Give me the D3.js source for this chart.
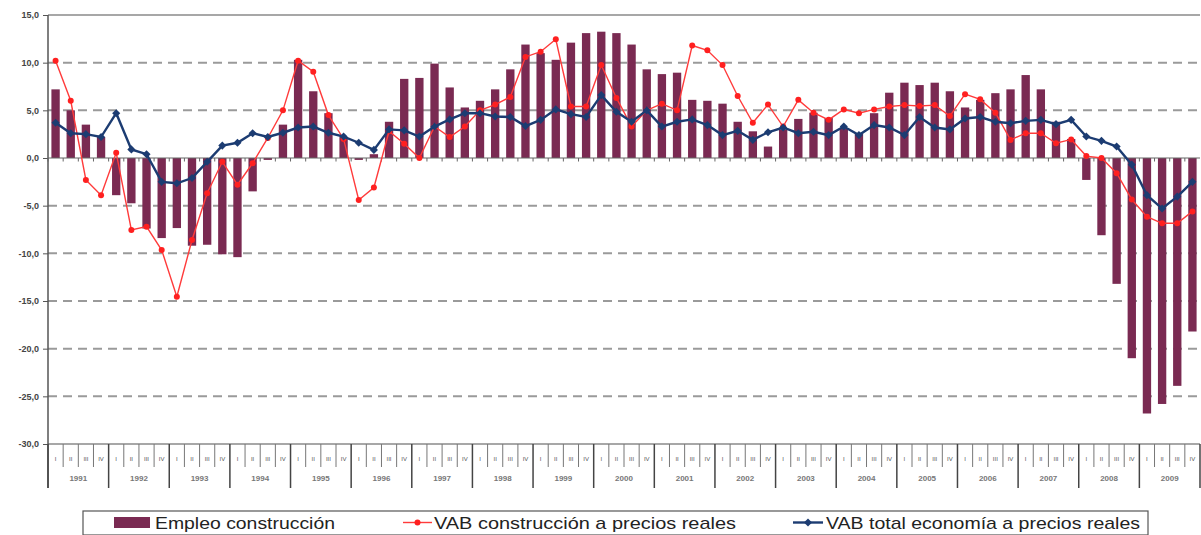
<!DOCTYPE html>
<html>
<head>
<meta charset="utf-8">
<script src="https://cdn.jsdelivr.net/npm/d3@7"></script>
<style>
  html, body { margin: 0; padding: 0; background: #ffffff; }
  svg { display: block; font-family: "Liberation Sans", Arial, sans-serif; }
</style>
</head>
<body>
<svg id="chart" width="1201" height="535"></svg>
<script>
// Quarterly year-on-year rates (%), 1991 Q1 – 2009 Q4
const years = ["1991","1992","1993","1994","1995","1996","1997","1998","1999","2000",
               "2001","2002","2003","2004","2005","2006","2007","2008","2009"];
const quarterLabels = ["I", "II", "III", "IV"];

const empleoConstruccion = [
  7.2, 5.0, 3.5, 2.2,     -3.9, -4.75, -7.4, -8.4,   -7.35, -9.2, -9.1, -10.1,
  -10.4, -3.5, -0.2, 3.5, 10.3, 7.0, 4.7, 2.2,       -0.2, 0.4, 3.8, 8.3,
  8.4, 9.9, 7.4, 5.3,     6.0, 7.2, 9.3, 11.9,       11.0, 10.3, 12.1, 13.1,
  13.25, 13.1, 11.9, 9.3, 8.8, 8.95, 6.1, 6.0,       5.7, 3.8, 2.8, 1.2,
  3.0, 4.1, 4.75, 4.2,    3.1, 2.6, 4.7, 6.85,       7.9, 7.65, 7.9, 7.0,
  5.3, 6.1, 6.8, 7.2,     8.7, 7.2, 3.8, 2.0,        -2.3, -8.1, -13.2, -21.0,
  -26.8, -25.8, -23.9, -18.2
];

const vabConstruccion = [
  10.2, 6.0, -2.3, -3.9,  0.55, -7.55, -7.2, -9.65,  -14.55, -8.6, -3.7, -0.4,
  -2.8, -0.55, 2.1, 5.0,  10.2, 9.05, 4.5, 2.0,      -4.4, -3.1, 2.8, 1.5,
  0.0, 3.3, 2.2, 3.3,     5.0, 5.6, 6.4, 10.6,       11.15, 12.45, 5.4, 5.4,
  9.75, 6.3, 3.3, 5.0,    5.7, 5.0, 11.8, 11.3,      9.75, 6.5, 3.7, 5.6,
  3.3, 6.1, 4.75, 4.0,    5.1, 4.7, 5.1, 5.4,        5.55, 5.45, 5.55, 4.4,
  6.7, 6.15, 4.75, 1.9,   2.6, 2.6, 1.55, 1.95,      0.2, 0.0, -1.6, -4.35,
  -6.15, -6.85, -6.85, -5.6
];

const vabTotal = [
  3.7, 2.6, 2.5, 2.2,     4.7, 0.9, 0.4, -2.5,       -2.65, -2.1, -0.4, 1.3,
  1.6, 2.6, 2.2, 2.65,    3.2, 3.3, 2.65, 2.25,      1.6, 0.85, 3.0, 2.9,
  2.25, 3.3, 4.05, 4.7,   4.7, 4.35, 4.3, 3.35,      4.0, 5.1, 4.6, 4.3,
  6.6, 4.85, 3.8, 5.0,    3.3, 3.8, 4.05, 3.45,      2.4, 2.85, 1.9, 2.7,
  3.2, 2.6, 2.75, 2.4,    3.3, 2.4, 3.45, 3.2,       2.4, 4.3, 3.2, 3.0,
  4.15, 4.3, 3.8, 3.65,   3.9, 4.0, 3.55, 4.0,       2.25, 1.8, 1.2, -0.7,
  -3.9, -5.3, -4.05, -2.5
];

const yTicks = [15, 10, 5, 0, -5, -10, -15, -20, -25, -30];

const seriesNames = ["Empleo construcción",
                     "VAB construcción a precios reales",
                     "VAB total economía a precios reales"];

// ---------------------------------------------------------------------------
const colors = { bar: "#7a2a52", red: "#ff3b3b", redDot: "#ff2020", blue: "#1c3c72" };

const periods = [];
years.forEach(y => quarterLabels.forEach(q => periods.push(y + "-" + q)));

const svg = d3.select("#chart");
const plot = { left: 48, right: 1200, top: 15, bottom: 444 };

const x = d3.scaleBand().domain(periods).range([plot.left, plot.right]).paddingInner(0.45).paddingOuter(0.225);
const xq = d3.scaleBand().domain(periods).range([plot.left, plot.right]);
const xYear = d3.scaleBand().domain(years).range([plot.left, plot.right]);
const y = d3.scaleLinear().domain([-30, 15]).range([plot.bottom, plot.top]);

const fmt = v => d3.format(".1f")(v).replace(".", ",").replace("\u2212", "-");

// dashed gridlines
svg.append("g")
  .selectAll("line")
  .data(yTicks.filter(t => t !== 0 && t !== 15 && t !== -30))
  .join("line")
  .attr("x1", plot.left).attr("x2", plot.right)
  .attr("y1", d => y(d)).attr("y2", d => y(d))
  .attr("stroke", "#9a9a9a").attr("stroke-width", 2)
  .attr("stroke-dasharray", "9,6");

// plot frame top and bottom
svg.append("line").attr("x1", plot.left).attr("x2", plot.right)
  .attr("y1", y(15)).attr("y2", y(15)).attr("stroke", "#8a8a8a").attr("stroke-width", 1.5);
svg.append("line").attr("x1", plot.left).attr("x2", plot.right)
  .attr("y1", y(-30)).attr("y2", y(-30)).attr("stroke", "#8a8a8a").attr("stroke-width", 1.5);

// y axis
const yAxis = d3.axisLeft(y).tickValues(yTicks).tickFormat(fmt).tickSize(5).tickPadding(4);
const gy = svg.append("g").attr("transform", `translate(${plot.left},0)`).call(yAxis);
gy.select(".domain").remove();
gy.selectAll(".tick line").attr("stroke", "#555");
gy.selectAll(".tick text").attr("fill", "#444").style("font-size", "9px").style("font-weight", "bold");
svg.append("line").attr("x1", plot.left).attr("x2", plot.left)
  .attr("y1", plot.top).attr("y2", 488).attr("stroke", "#555").attr("stroke-width", 1.5);

// bars
svg.append("g")
  .selectAll("rect")
  .data(empleoConstruccion)
  .join("rect")
  .attr("x", (d, i) => x(periods[i]))
  .attr("width", x.bandwidth())
  .attr("y", d => y(Math.max(0, d)))
  .attr("height", d => Math.abs(y(d) - y(0)))
  .attr("fill", colors.bar);

// zero axis with quarter tick marks
svg.append("line").attr("x1", plot.left).attr("x2", plot.right)
  .attr("y1", y(0)).attr("y2", y(0)).attr("stroke", "#666").attr("stroke-width", 1.2);
svg.append("g")
  .selectAll("line")
  .data(periods)
  .join("line")
  .attr("x1", d => xq(d)).attr("x2", d => xq(d))
  .attr("y1", y(0)).attr("y2", y(0) + 3.5)
  .attr("stroke", "#666").attr("stroke-width", 1);

// bottom category axis: quarters then years
const cx = i => xq(periods[i]) + xq.bandwidth() / 2;
const catAxis = svg.append("g");
catAxis.selectAll("line.q")
  .data(periods)
  .join("line")
  .attr("class", "q")
  .attr("x1", d => xq(d)).attr("x2", d => xq(d))
  .attr("y1", plot.bottom).attr("y2", d => d.endsWith("-I") ? 488 : 467)
  .attr("stroke", d => d.endsWith("-I") ? "#444" : "#777")
  .attr("stroke-width", d => d.endsWith("-I") ? 1.5 : 1);
catAxis.append("line")
  .attr("x1", plot.right).attr("x2", plot.right)
  .attr("y1", plot.bottom).attr("y2", 488).attr("stroke", "#444").attr("stroke-width", 1.5);
catAxis.selectAll("text.q")
  .data(periods)
  .join("text")
  .attr("class", "q")
  .attr("x", (d, i) => cx(i)).attr("y", 461)
  .attr("text-anchor", "middle")
  .style("font-size", "6px").attr("fill", "#555")
  .text(d => d.split("-")[1]);
catAxis.selectAll("text.y")
  .data(years)
  .join("text")
  .attr("class", "y")
  .attr("x", d => xYear(d) + xYear.bandwidth() / 2).attr("y", 481)
  .attr("text-anchor", "middle")
  .style("font-size", "8px").style("font-weight", "bold").attr("fill", "#777")
  .text(d => d);

// lines
const line = d3.line().x((d, i) => cx(i)).y(d => y(d));

svg.append("path").datum(vabConstruccion)
  .attr("d", line).attr("fill", "none")
  .attr("stroke", colors.red).attr("stroke-width", 1.4);
svg.append("g").selectAll("circle")
  .data(vabConstruccion).join("circle")
  .attr("cx", (d, i) => cx(i)).attr("cy", d => y(d)).attr("r", 3)
  .attr("fill", colors.redDot);

svg.append("path").datum(vabTotal)
  .attr("d", line).attr("fill", "none")
  .attr("stroke", colors.blue).attr("stroke-width", 2.4);
const diamond = d3.symbol().type(d3.symbolDiamond2).size(42);
svg.append("g").selectAll("path")
  .data(vabTotal).join("path")
  .attr("transform", (d, i) => `translate(${cx(i)},${y(d)})`)
  .attr("d", diamond)
  .attr("fill", colors.blue);

// legend
const lg = svg.append("g");
lg.append("rect").attr("x", 83).attr("y", 511).attr("width", 1065).attr("height", 24)
  .attr("fill", "#fff").attr("stroke", "#555").attr("stroke-width", 1.2);
lg.append("rect").attr("x", 114).attr("y", 517).attr("width", 36).attr("height", 11)
  .attr("fill", colors.bar);
lg.append("text").attr("x", 155).attr("y", 529).style("font-size", "17px").attr("fill", "#222")
  .attr("textLength", 180).attr("lengthAdjust", "spacingAndGlyphs")
  .text(seriesNames[0]);
lg.append("line").attr("x1", 403).attr("x2", 432).attr("y1", 522.5).attr("y2", 522.5)
  .attr("stroke", colors.red).attr("stroke-width", 1.4);
lg.append("circle").attr("cx", 417.5).attr("cy", 522.5).attr("r", 3).attr("fill", colors.redDot);
lg.append("text").attr("x", 434).attr("y", 529).style("font-size", "17px").attr("fill", "#222")
  .attr("textLength", 302).attr("lengthAdjust", "spacingAndGlyphs")
  .text(seriesNames[1]);
lg.append("line").attr("x1", 793).attr("x2", 823).attr("y1", 522.5).attr("y2", 522.5)
  .attr("stroke", colors.blue).attr("stroke-width", 2.4);
lg.append("path").attr("transform", "translate(808,522.5)").attr("d", diamond).attr("fill", colors.blue);
lg.append("text").attr("x", 826).attr("y", 529).style("font-size", "17px").attr("fill", "#222")
  .attr("textLength", 314).attr("lengthAdjust", "spacingAndGlyphs")
  .text(seriesNames[2]);
</script>
</body>
</html>
